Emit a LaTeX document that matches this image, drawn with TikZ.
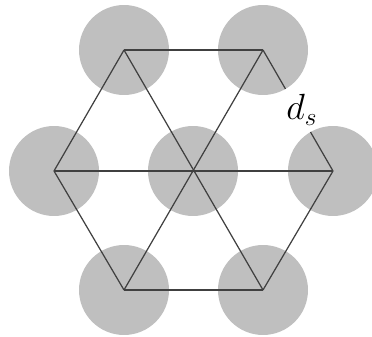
\documentclass[tikz,border=0pt]{standalone}
\usepackage{amsmath}
\usepackage{tikz}

\begin{document}
\begin{tikzpicture}[
      x=0.02cm, y=-0.02cm,
      disc/.style={circle, fill=black!25, draw=none, minimum size=1.8cm,
        inner sep=0pt, outer sep=0pt},
      edge/.style={draw=black!75, line width=0.7pt},
      lab/.style={font=\huge}]
    \useasboundingbox (0,0) rectangle (372,337);
    % lattice sites
    \node[disc] (c) at (193,171) {};
    \node[disc] (l) at (54,171) {};
    \node[disc] (r) at (333,171) {};
    \node[disc] (tl) at (124,50) {};
    \node[disc] (tr) at (263,50) {};
    \node[disc] (bl) at (124,290) {};
    \node[disc] (br) at (263,290) {};

    % hexagon and diagonals
    \draw[edge] (tl.center) -- (tr.center);
    \draw[edge] (tl.center) -- (l.center);
    \draw[edge] (l.center) -- (bl.center);
    \draw[edge] (bl.center) -- (br.center);
    \draw[edge] (br.center) -- (r.center);
    \draw[edge] (l.center) -- (r.center);
    \draw[edge] (tl.center) -- (br.center);
    \draw[edge] (tr.center) -- (bl.center);

    % spacing between neighbouring discs
    \draw[edge] (tr.center) -- (tr.-60);
    \draw[edge] (r.center) -- (r.120);
    \node[lab] (ds) at (302,110) {$d_s$};
\end{tikzpicture}
\end{document}
